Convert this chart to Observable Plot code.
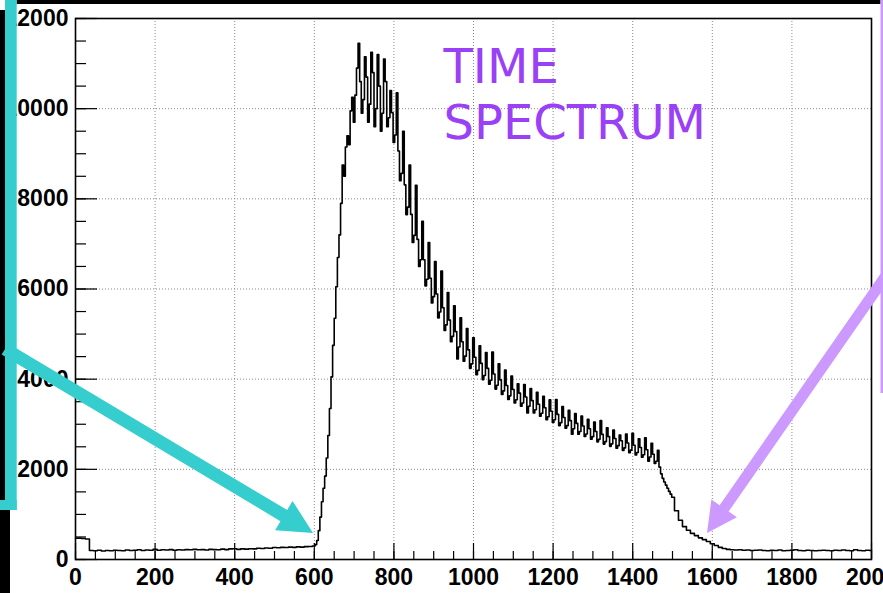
<!DOCTYPE html>
<html>
<head>
<meta charset="utf-8">
<script src="https://cdn.jsdelivr.net/npm/d3@7"></script>
<script src="https://cdn.jsdelivr.net/npm/@observablehq/plot@0.6"></script>
<style>
html, body { margin: 0; padding: 0; background: #fff; overflow: hidden; }
</style>
</head>
<body>
<div id="chart"></div>
<script>
// ---- tick values and labels ----
const xTicks = [0, 200, 400, 600, 800, 1000, 1200, 1400, 1600, 1800, 2000];
const xTickLabels = ["0", "200", "400", "600", "800", "1000", "1200", "1400", "1600", "1800", "2000"];
const yTicks = [0, 2000, 4000, 6000, 8000, 10000, 12000];
const yTickLabels = ["0", "2000", "4000", "6000", "8000", "10000", "12000"];
const xMinor = d3.range(0, 2001, 50);
const yMinor = d3.range(0, 12001, 500);

// ---- histogram (time spectrum) ----
// flat region before the peak: channels 0..600, step 10
const preStart = 0, preStep = 10;
const preCounts = [
  470, 475, 465, 455, 200, 195, 205, 190, 200, 195,
  205, 200, 195, 210, 200, 205, 215, 200, 210, 205,
  225, 205, 215, 210, 220, 205, 215, 210, 220, 215,
  225, 215, 220, 210, 225, 220, 215, 230, 220, 235,
  240, 225, 235, 230, 240, 235, 250, 245, 255, 250,
  265, 260, 270, 265, 275, 270, 280, 275, 285, 290,
  300
];
// rise, peak and oscillating decay: channels 604..1500, step 4
const peakStart = 604, peakStep = 4;
const peakCounts = [
  330, 420, 640, 940, 1280, 1580, 1850, 2250,
  2750, 3350, 4050, 4750, 5350, 6050, 6700, 7200,
  7900, 8750, 8500, 9150, 9400, 9200, 9950, 10250,
  9700, 10300, 10900, 11450, 10600, 9900, 10200, 11150,
  10700, 9700, 10100, 11250, 10800, 9600, 10000, 11200,
  10500, 9500, 9900, 11100, 10600, 9600, 9800, 10400,
  9910, 9250, 9415, 10350, 9060, 8400, 8565, 9500,
  8310, 7650, 7815, 8750, 7655, 7030, 7190, 8300,
  7100, 6500, 6650, 7500, 6650, 6070, 6215, 7030,
  6240, 5690, 5830, 6610, 5890, 5360, 5490, 6400,
  5585, 5080, 5205, 5920, 5310, 4830, 4950, 5630,
  5055, 4450, 4715, 5360, 4830, 4400, 4510, 5120,
  4650, 4240, 4340, 4920, 4485, 4100, 4195, 4740,
  4350, 3990, 4080, 4590, 4240, 3890, 3975, 4600,
  4115, 3780, 3865, 4340, 3985, 3660, 3740, 4200,
  3860, 3550, 3630, 4070, 3770, 3470, 3545, 3900,
  3690, 3400, 3470, 3880, 3605, 3250, 3400, 3790,
  3525, 3250, 3320, 3710, 3445, 3180, 3245, 3620,
  3365, 3100, 3165, 3540, 3290, 3040, 3100, 3550,
  3220, 2970, 3035, 3390, 3150, 2910, 2970, 3310,
  3080, 2780, 2900, 3240, 3020, 2780, 2840, 3180,
  2960, 2730, 2785, 3110, 2900, 2670, 2725, 3050,
  2840, 2610, 2665, 3080, 2775, 2560, 2615, 2920,
  2725, 2510, 2565, 2870, 2685, 2470, 2525, 2760,
  2635, 2420, 2475, 2780, 2585, 2370, 2425, 2800,
  2535, 2320, 2375, 2680, 2485, 2270, 2325, 2700,
  2435, 2180, 2275, 2580, 2335, 2130, 2180, 2420,
  2050, 1900, 1800, 1720, 1650, 1580, 1510, 1450,
  1380
];
// tail after the fall: channels 1510..2000, step 10
const tailStart = 1510, tailStep = 10;
const tailCounts = [
  1080, 870, 730, 650, 580, 530, 480, 440, 400, 350,
  310, 270, 245, 225, 215, 210, 215, 205, 210, 200,
  205, 210, 200, 195, 205, 200, 210, 195, 200, 205,
  215, 200, 195, 205, 200, 195, 200, 205, 200, 195,
  205, 200, 210, 200, 195, 215, 200, 195, 205, 200
];

const titleText = "TIME\nSPECTRUM";

// ---- build table ----
const spectrum = [];
preCounts.forEach((n, i) => spectrum.push({ch: preStart + i * preStep, n}));
peakCounts.forEach((n, i) => spectrum.push({ch: peakStart + i * peakStep, n}));
tailCounts.forEach((n, i) => spectrum.push({ch: tailStart + i * tailStep, n}));

const W = 883, H = 593, mL = 75, mR = 12, mT = 18, mB = 34;
const plotW = W - mL - mR, plotH = H - mT - mB;
const font = "'Liberation Sans', Arial, Helvetica, sans-serif";
const gridStyle = {stroke: "#8a8a8a", strokeOpacity: 1, strokeWidth: 1, strokeDasharray: "1,2"};
const labelStyle = {fontSize: 23, fontWeight: "bold", fontFamily: font, fill: "black"};

const chart = Plot.plot({
  width: W, height: H,
  marginLeft: mL, marginRight: mR, marginTop: mT, marginBottom: mB,
  style: {fontFamily: font, background: "white", color: "black"},
  x: {domain: [0, 2000], label: null},
  y: {domain: [0, 12000], label: null},
  marks: [
    Plot.gridX(xTicks, gridStyle),
    Plot.gridY(yTicks, gridStyle),
    Plot.tickY(yMinor, {y: d => d, insetRight: plotW - 11, stroke: "black", strokeWidth: 1.2}),
    Plot.tickY(yTicks, {y: d => d, insetRight: plotW - 22, stroke: "black", strokeWidth: 1.2}),
    Plot.tickX(xMinor, {x: d => d, insetTop: plotH - 8, stroke: "black", strokeWidth: 1.2}),
    Plot.tickX(xTicks, {x: d => d, insetTop: plotH - 16, stroke: "black", strokeWidth: 1.2}),
    Plot.line(spectrum, {x: "ch", y: "n", curve: "step", stroke: "black", strokeWidth: 1.6}),
    Plot.frame({stroke: "black", strokeWidth: 1.6}),
    Plot.axisX(xTicks, {label: null, tickSize: 0, tickPadding: 9, tickFormat: d => xTickLabels[xTicks.indexOf(d)], ...labelStyle}),
    Plot.axisY(yTicks, {label: null, tickSize: 0, tickPadding: 7, tickFormat: d => yTickLabels[yTicks.indexOf(d)], ...labelStyle}),
    Plot.text([titleText], {
      text: d => d, frameAnchor: "top-left", dx: 368, dy: 25,
      textAnchor: "start", lineAnchor: "top", lineHeight: 1.167,
      fontSize: 48, fontFamily: "'DejaVu Sans', Verdana, sans-serif", fill: "#9a40f6"
    })
  ]
});
document.getElementById("chart").appendChild(chart);

// ---- slide decorations (frame pieces and arrows around the plot) ----
const cyan = "#35cdcd", lilac = "#cc99ff";
const svg = d3.select(chart);
const deco = svg.append("g");
function arrowPoints(x0, y0, x1, y1, w, hl, hw) {
  const dx = x1 - x0, dy = y1 - y0, L = Math.hypot(dx, dy);
  const ux = dx / L, uy = dy / L, px = -uy, py = ux;
  const bx = x1 - ux * hl, by = y1 - uy * hl;
  return [
    [x0 + px * w / 2, y0 + py * w / 2], [bx + px * w / 2, by + py * w / 2],
    [bx + px * hw / 2, by + py * hw / 2], [x1, y1],
    [bx - px * hw / 2, by - py * hw / 2], [bx - px * w / 2, by - py * w / 2],
    [x0 - px * w / 2, y0 - py * w / 2]
  ].map(p => p.join(",")).join(" ");
}
deco.append("rect").attr("x", 16.5).attr("y", 0).attr("width", 864).attr("height", 4).attr("fill", "black");
deco.append("rect").attr("x", 0).attr("y", 10).attr("width", 6).attr("height", 492).attr("fill", "black");
deco.append("rect").attr("x", 0).attr("y", 510).attr("width", 10).attr("height", 83).attr("fill", "black");
deco.append("polygon").attr("points", arrowPoints(5, 349, 313, 533, 13, 34, 34)).attr("fill", cyan);
deco.append("rect").attr("x", 5).attr("y", 0).attr("width", 11.7).attr("height", 510).attr("fill", cyan);
deco.append("rect").attr("x", 0).attr("y", 500).attr("width", 16.7).attr("height", 10).attr("fill", cyan);
deco.append("rect").attr("x", 880.5).attr("y", 0).attr("width", 2.5).attr("height", 393).attr("fill", lilac);
deco.append("polygon").attr("points", arrowPoints(892, 267, 707, 533, 11, 30, 31)).attr("fill", lilac);
</script>
</body>
</html>
